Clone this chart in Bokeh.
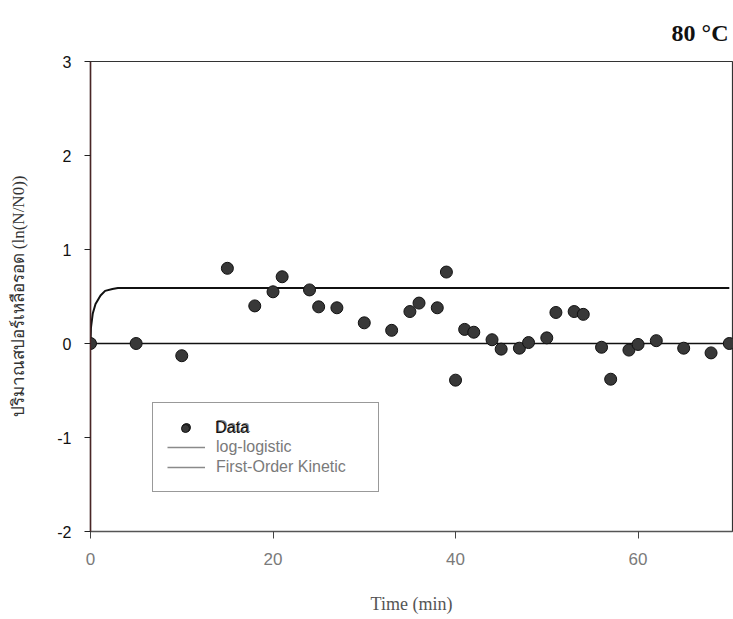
from bokeh.plotting import figure
from bokeh.models import Range1d, Legend, LegendItem, FixedTicker
from bokeh.embed import file_html
from bokeh.resources import INLINE

# Survival of spores at 80 °C: observations and two fitted models
time_min = [0, 5, 10, 15, 18, 20, 21, 24, 25, 27, 30, 33, 35, 36, 38, 39, 40,
            41, 42, 44, 45, 47, 48, 50, 51, 53, 54, 56, 57, 59, 60, 62, 65, 68, 70]
ln_ratio = [0.0, 0.0, -0.13, 0.80, 0.40, 0.55, 0.71, 0.57, 0.39, 0.38, 0.22,
            0.14, 0.34, 0.43, 0.38, 0.76, -0.39, 0.15, 0.12, 0.04, -0.06, -0.05,
            0.01, 0.06, 0.33, 0.34, 0.31, -0.04, -0.38, -0.07, -0.01, 0.03,
            -0.05, -0.10, 0.0]

# log-logistic fit (rapid rise to a plateau)
loglog_t = [0, 0.05, 0.25, 0.55, 1.1, 1.6, 2.4, 3.0, 70]
loglog_y = [0, 0.17, 0.32, 0.42, 0.51, 0.56, 0.58, 0.59, 0.59]

# first-order kinetic fit (flat at zero)
fo_t = [0, 70]
fo_y = [0, 0]

x_ticks = [0, 20, 40, 60]
y_ticks = [-2, -1, 0, 1, 2, 3]

p = figure(width=733, height=619, output_backend="svg", toolbar_location=None,
           x_range=Range1d(0, 70.35), y_range=Range1d(-2, 3),
           min_border_left=90, min_border_right=1, min_border_top=61,
           min_border_bottom=88, frame_width=642, frame_height=470)

p.background_fill_color = "white"
p.border_fill_color = "white"
p.outline_line_color = "#333333"
p.outline_line_width = 1.2
p.grid.visible = False

# temperature heading, top right
p.title.text = "80 °C"
p.title.align = "right"
p.title.text_font = "Liberation Serif"
p.title.text_font_size = "24px"
p.title.text_font_style = "bold"
p.title.text_color = "#111111"
p.title.offset = 4
p.title.standoff = 31

# axes
p.xaxis.ticker = FixedTicker(ticks=x_ticks)
p.yaxis.ticker = FixedTicker(ticks=y_ticks)
p.yaxis.major_label_overrides = {t: str(t) for t in y_ticks}
p.xaxis.minor_tick_line_color = None
p.yaxis.minor_tick_line_color = None
p.xaxis.major_tick_out = 7
p.xaxis.major_tick_in = 0
p.yaxis.major_tick_out = 6
p.yaxis.major_tick_in = 0
p.xaxis.axis_line_color = "#555555"
p.xaxis.major_tick_line_color = "#444444"
p.yaxis.axis_line_color = "#4a2626"
p.yaxis.major_tick_line_color = "#222222"
p.xaxis.axis_line_width = 1.3
p.yaxis.axis_line_width = 1.5

p.xaxis.major_label_text_font = "Liberation Sans"
p.xaxis.major_label_text_font_size = "17px"
p.xaxis.major_label_text_color = "#7a7a7a"
p.xaxis.major_label_standoff = 14
p.yaxis.major_label_text_font = "Liberation Sans"
p.yaxis.major_label_text_font_size = "16px"
p.yaxis.major_label_text_color = "#111111"
p.yaxis.major_label_standoff = 13

p.xaxis.axis_label = "Time (min)"
p.xaxis.axis_label_text_font = "Liberation Serif"
p.xaxis.axis_label_text_font_style = "normal"
p.xaxis.axis_label_text_font_size = "18px"
p.xaxis.axis_label_text_color = "#555555"
p.xaxis.axis_label_standoff = 26

p.yaxis.axis_label = "ปริมาณสปอร์เหลือรอด (ln(N/N0))"
p.yaxis.axis_label_text_font = "Liberation Serif"
p.yaxis.axis_label_text_font_style = "normal"
p.yaxis.axis_label_text_font_size = "17px"
p.yaxis.axis_label_text_color = "#333333"
p.yaxis.axis_label_standoff = 26

# model curves
fo = p.line(fo_t, fo_y, line_color="#111111", line_width=1.5)
ll = p.line(loglog_t, loglog_y, line_color="#111111", line_width=2)

# observations
pts = p.scatter(time_min, ln_ratio, size=12, marker="circle",
                fill_color="#383838", line_color="#111111", line_width=1)

# grey swatches for the legend entries of the fitted curves
nan = float("nan")
ll_key = p.line([nan], [nan], line_color="#8a8a8a", line_width=1.3)
fo_key = p.line([nan], [nan], line_color="#8a8a8a", line_width=1.3)

legend_style = dict(label_text_font="Liberation Sans", label_text_font_size="16px",
                    glyph_width=38, glyph_height=20, label_height=20,
                    label_standoff=11, label_width=148, spacing=0, padding=14,
                    margin=0)

box_legend = Legend(items=[LegendItem(label="Data", renderers=[pts]),
                           LegendItem(label="log-logistic", renderers=[ll_key]),
                           LegendItem(label="First-Order Kinetic", renderers=[fo_key])],
                    location=(62, 39), label_text_color="#7a7a7a",
                    border_line_color="#333333", border_line_width=1.3,
                    background_fill_color="white", **legend_style)
p.add_layout(box_legend, "center")

data_legend = Legend(items=[LegendItem(label="Data", renderers=[pts])],
                     location=(62, 79), label_text_color="#111111",
                     border_line_alpha=0, background_fill_alpha=0, **legend_style)
p.add_layout(data_legend, "center")

open("out.html", "w").write(file_html(p, INLINE))
